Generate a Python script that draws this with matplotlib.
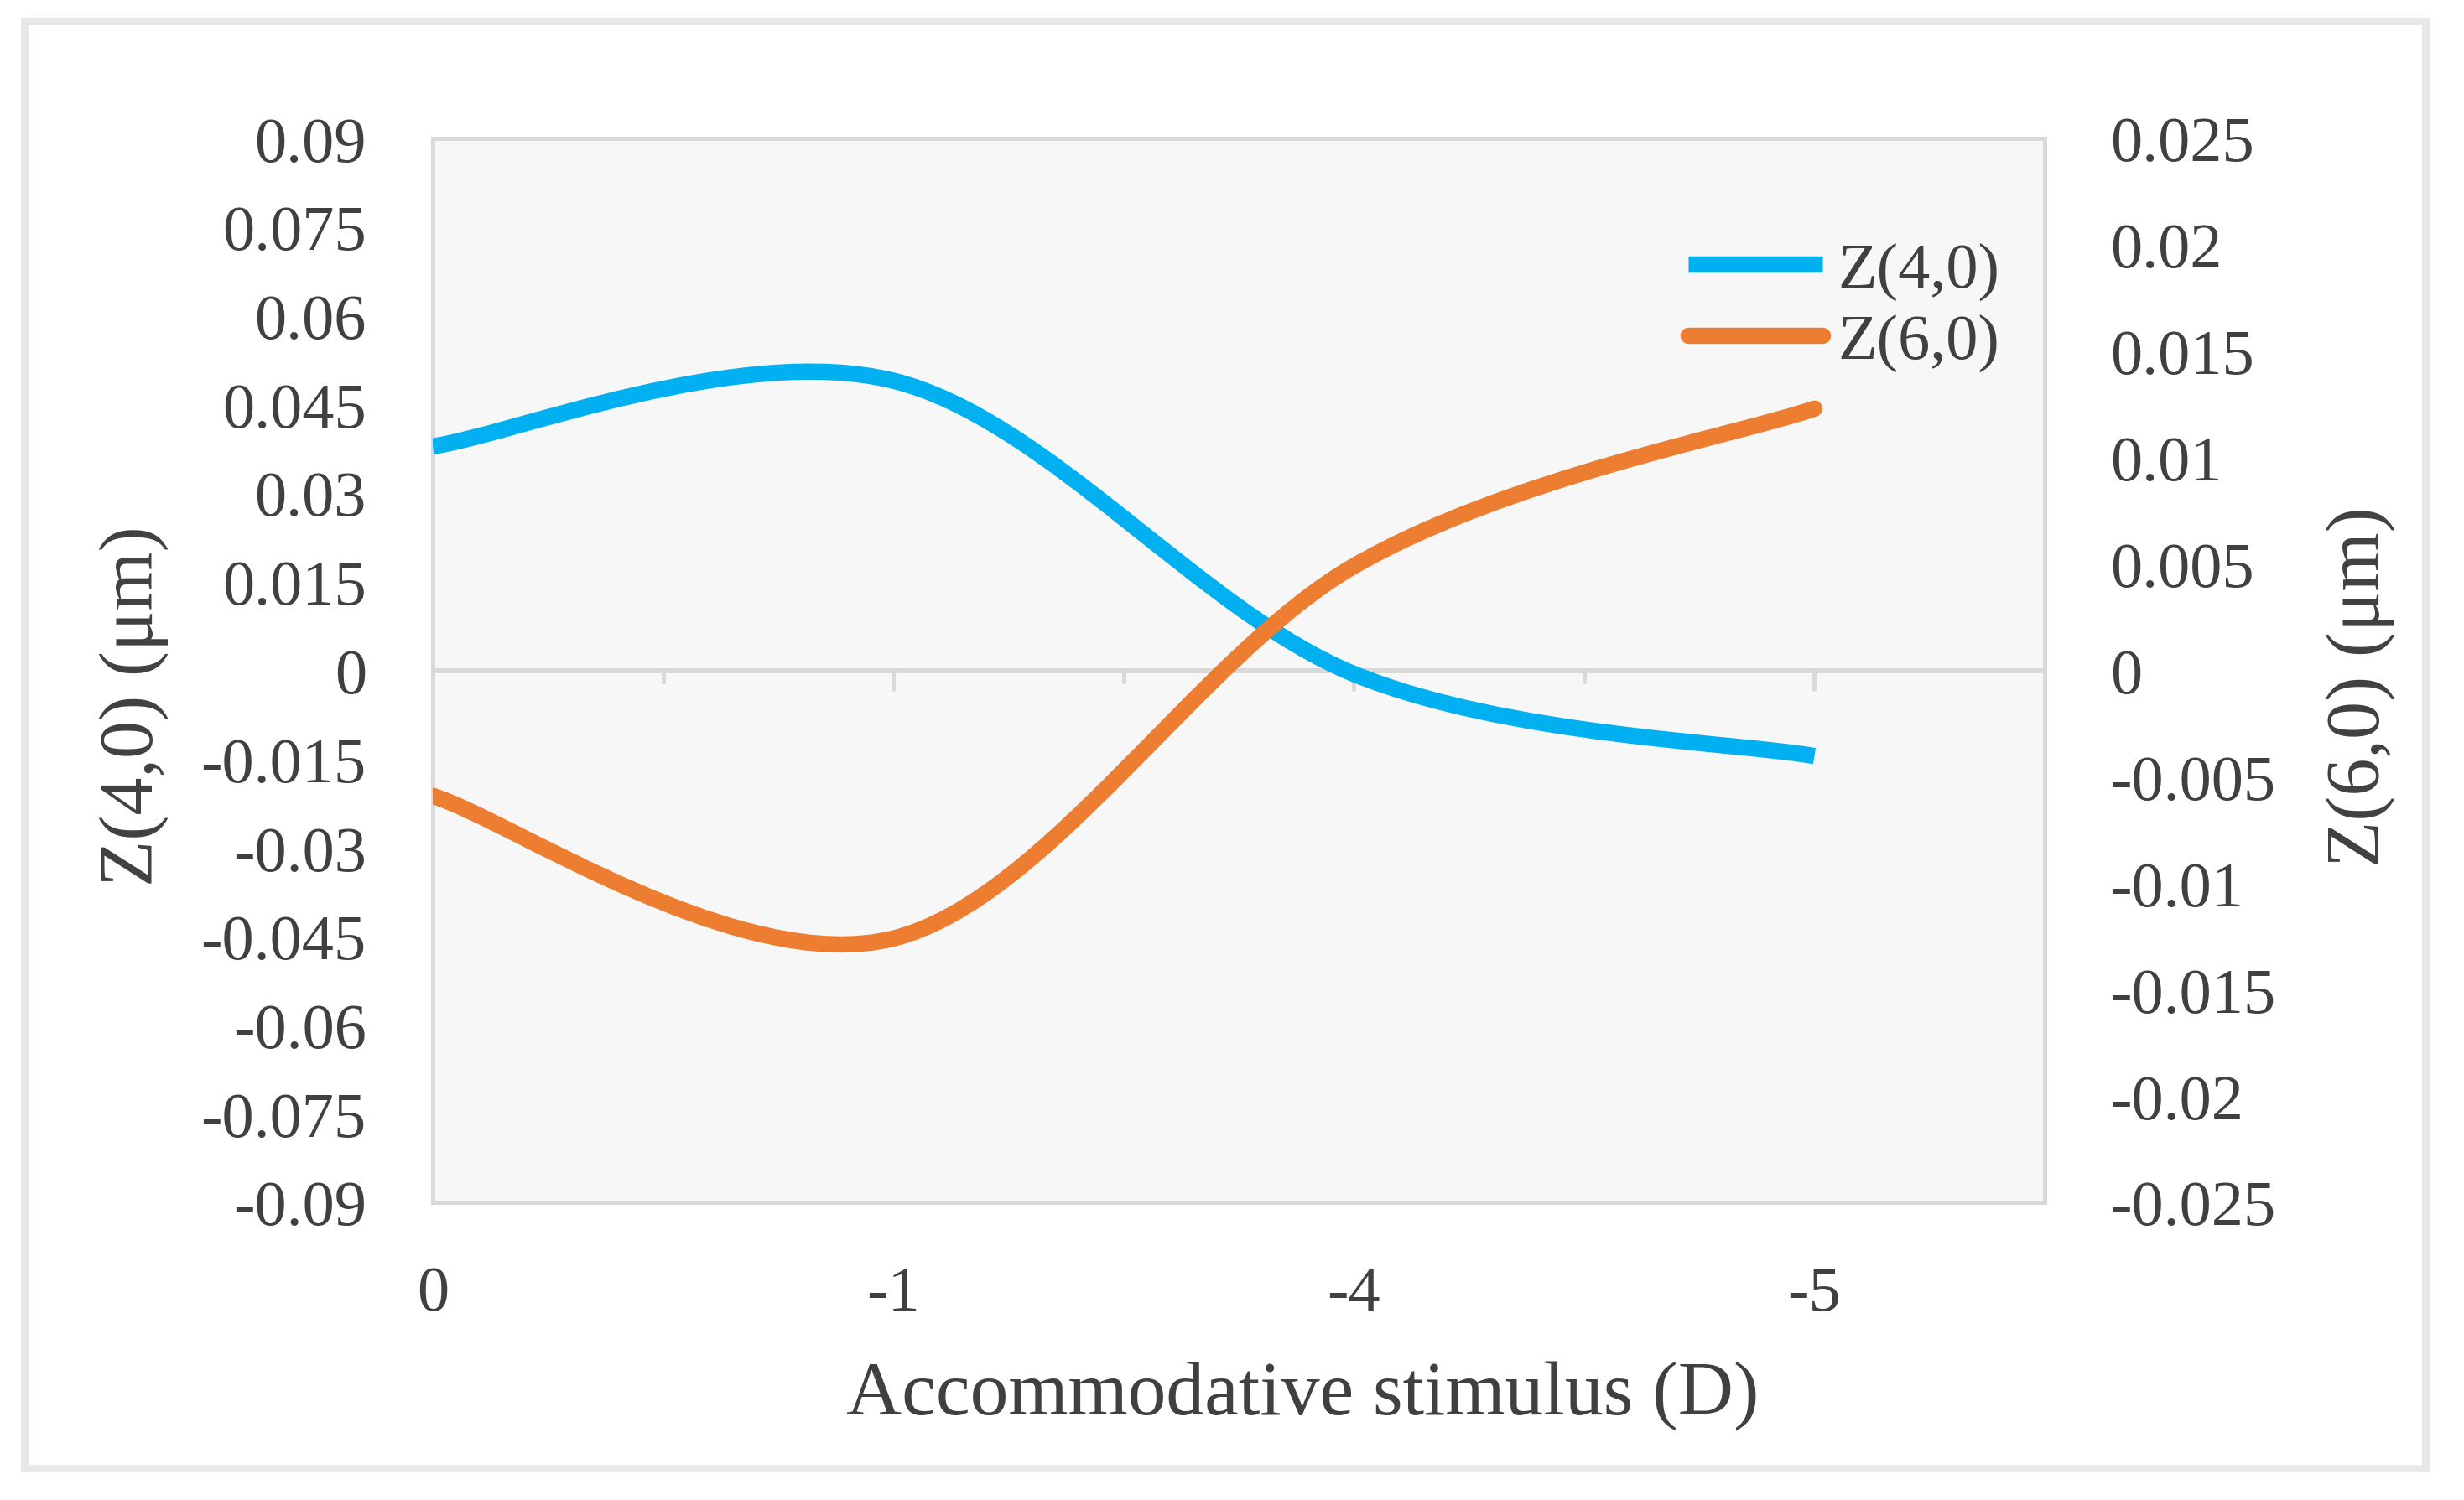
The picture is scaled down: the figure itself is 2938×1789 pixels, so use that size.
import matplotlib
matplotlib.use('Agg')
import matplotlib.pyplot as plt
from matplotlib.path import Path
from matplotlib.patches import PathPatch, Rectangle
from matplotlib.lines import Line2D
import numpy as np

# ---- data ----
categories = ['0', '-1', '-4', '-5']
cat_pos = [0, 2, 4, 6]
z40 = [0.0379, 0.0490, -0.0006, -0.0145]
z60 = [-0.0059, -0.0126, 0.0049, 0.0123]
series_names = ['Z(4,0)', 'Z(6,0)']
left_ticks = [0.09, 0.075, 0.06, 0.045, 0.03, 0.015, 0, -0.015, -0.03, -0.045, -0.06, -0.075, -0.09]
left_labels = ['0.09', '0.075', '0.06', '0.045', '0.03', '0.015', '0', '-0.015', '-0.03', '-0.045', '-0.06', '-0.075', '-0.09']
right_ticks = [0.025, 0.02, 0.015, 0.01, 0.005, 0, -0.005, -0.01, -0.015, -0.02, -0.025]
right_labels = ['0.025', '0.02', '0.015', '0.01', '0.005', '0', '-0.005', '-0.01', '-0.015', '-0.02', '-0.025']
major_tick_pos = [2, 4, 6]
minor_tick_pos = [1, 3, 5]

plt.rcParams['font.family'] = ['Liberation Serif', 'DejaVu Serif']
TXT = '#404040'
GRID = '#d9d9d9'
BLUE = '#00b0f0'
ORANGE = '#ed7d31'


def smooth_path(xs, ys):
    """Excel-like smoothed line: cubic Bezier segments through the points."""
    pts = np.column_stack([xs, ys]).astype(float)
    n = len(pts)
    verts = [pts[0]]
    codes = [Path.MOVETO]
    for i in range(n - 1):
        p_prev = pts[i - 1] if i > 0 else pts[i]
        p_next2 = pts[i + 2] if i + 2 < n else pts[i + 1]
        c1 = pts[i] + (pts[i + 1] - p_prev) / 6.0
        c2 = pts[i + 1] - (p_next2 - pts[i]) / 6.0
        verts += [c1, c2, pts[i + 1]]
        codes += [Path.CURVE4] * 3
    return Path(verts, codes)


W, H = 2938, 1790
fig = plt.figure(figsize=(W / 100, H / 100), dpi=100)
fig.patch.set_facecolor('white')

L, R, T, B = 516, 2438, 166, 1435
ax = fig.add_axes([L / W, (H - B) / H, (R - L) / W, (B - T) / H])
ax.set_facecolor('#f7f7f7')
for s in ax.spines.values():
    s.set_color(GRID)
    s.set_linewidth(3.6)

ax.set_xlim(0, 7)
ax.set_ylim(-0.09, 0.09)
px_per_unit = (B - T) / 0.18

# horizontal category axis crossing at zero, with tick marks below it
ax.axhline(0, color=GRID, lw=4.3, zorder=1.5)
ax.vlines(major_tick_pos, -24 / px_per_unit, 0, color=GRID, lw=3.6, zorder=1.5)
ax.vlines(minor_tick_pos, -15 / px_per_unit, 0, color=GRID, lw=3.6, zorder=1.5)

ax.add_patch(PathPatch(smooth_path(cat_pos, z40), fill=False, edgecolor=BLUE,
                       lw=14, capstyle='butt', joinstyle='round', zorder=3))
ax.set_xlim(0, 7)
ax.set_ylim(-0.09, 0.09)
ax.set_yticks(left_ticks, left_labels)
ax.set_xticks(cat_pos, categories)
ax.tick_params(axis='both', length=0, labelsize=55, labelcolor=TXT)
ax.tick_params(axis='y', pad=57)
ax.tick_params(axis='x', pad=54)

ax2 = ax.twinx()
for s in ax2.spines.values():
    s.set_visible(False)
ax2.add_patch(PathPatch(smooth_path(cat_pos, z60), fill=False, edgecolor=ORANGE,
                        lw=14, capstyle='round', joinstyle='round', zorder=3))
ax2.set_xlim(0, 7)
ax2.set_ylim(-0.025, 0.025)
ax2.set_yticks(right_ticks, right_labels)
ax2.tick_params(axis='y', length=0, labelsize=55, labelcolor=TXT, pad=56)

handles = [Line2D([], [], color=BLUE, lw=14, solid_capstyle='butt'),
           Line2D([], [], color=ORANGE, lw=14, solid_capstyle='round')]
fig.legend(handles, series_names, loc='upper left',
           bbox_to_anchor=(2013 / W, 1 - 289 / H), bbox_transform=fig.transFigure,
           frameon=False, fontsize=55, handlelength=160 / 76.4,
           handletextpad=18 / 76.4, labelspacing=0.2, borderpad=0,
           borderaxespad=0, labelcolor=TXT)

fig.text(160 / W, 1 - 842 / H, 'Z(4,0) (μm)', rotation=90, ha='center',
         va='center', fontsize=65, color=TXT)
fig.text(2815 / W, 1 - 819 / H, 'Z(6,0) (μm)', rotation=90, ha='center',
         va='center', fontsize=65, color=TXT)
fig.text(1553 / W, 103 / H, 'Accommodative stimulus (D)', ha='center',
         va='baseline', fontsize=66, color=TXT)

fig.add_artist(Rectangle((28.5 / W, (H - 1752) / H), (2892 - 28.5) / W,
                         (1752 - 26) / H, transform=fig.transFigure, fill=False,
                         edgecolor='#e8e8e8', lw=6.5))

fig.savefig('out.png', dpi=100, facecolor='white')
